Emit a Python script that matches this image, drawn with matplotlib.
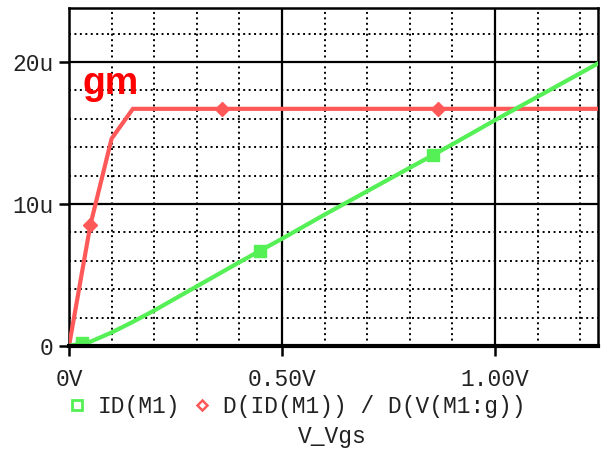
import matplotlib
matplotlib.use("Agg")
import matplotlib.pyplot as plt
from matplotlib.lines import Line2D

# ID(M1) trace, x in volts, y in microamps
vgs_id = [0.0, 0.03, 0.05, 0.10, 0.15, 0.20, 0.30, 0.40, 0.448, 0.50,
          0.60, 0.70, 0.80, 0.855, 0.90, 1.00, 1.10, 1.20, 1.242]
id_u = [0.0, 0.2, 0.3, 0.95, 1.7, 2.5, 4.2, 5.9, 6.7, 7.55,
        9.25, 10.9, 12.55, 13.45, 14.2, 15.9, 17.55, 19.2, 19.9]
id_marks = [1, 8, 13]

# gm = D(ID)/D(Vg) trace
vgs_gm = [0.0, 0.05, 0.10, 0.15, 0.36, 0.866, 1.242]
gm_u = [0.0, 8.5, 14.6, 16.7, 16.7, 16.7, 16.7]
gm_marks = [1, 4, 5]

x_ticks = [0.0, 0.5, 1.0]
x_labels = ["0V", "0.50V", "1.00V"]
y_ticks = [0, 10, 20]
y_labels = ["0", "10u", "20u"]

GREEN = "#55f055"
RED = "#ff5858"
MONO = "Liberation Mono"
TXT = "#222222"
FS = 16.5

fig = plt.figure(figsize=(6.01, 4.58), dpi=100)
ax = fig.add_axes([69 / 601, 1 - 346 / 458, (598 - 69) / 601, (346 - 8) / 458])
ax.set_xlim(0, 1.242)
ax.set_ylim(0, 23.8)

# dotted minor grid
for gx in [0.1, 0.2, 0.3, 0.4, 0.6, 0.7, 0.8, 0.9, 1.1, 1.2]:
    ax.axvline(gx, color="black", lw=1.4, ls=(0, (1, 1.8)), zorder=1)
for gy in [2, 4, 6, 8, 12, 14, 16, 18, 22]:
    ax.axhline(gy, color="black", lw=1.4, ls=(0, (1, 1.8)), zorder=1)
# solid major grid
for gx in [0.5, 1.0]:
    ax.axvline(gx, color="black", lw=1.6, zorder=1)
for gy in [10, 20]:
    ax.axhline(gy, color="black", lw=1.6, zorder=1)

ax.plot(vgs_gm, gm_u, color=RED, lw=3, marker="D", markersize=7,
        markevery=gm_marks, zorder=3, solid_joinstyle="miter")
ax.plot(vgs_id, id_u, color=GREEN, lw=3, marker="s", markersize=9,
        markevery=id_marks, zorder=4)

for side in ["left", "top", "right"]:
    ax.spines[side].set_linewidth(1.8)
ax.spines["bottom"].set_linewidth(3)
ax.spines["bottom"].set_zorder(5)

ax.set_xticks(x_ticks)
ax.set_xticklabels(x_labels)
ax.set_yticks(y_ticks)
ax.set_yticklabels(y_labels)
ax.tick_params(axis="both", direction="out", length=7, width=1.8,
               labelsize=FS, labelcolor=TXT, pad=4)
for lab in ax.get_xticklabels() + ax.get_yticklabels():
    lab.set_family(MONO)
ax.tick_params(axis="x", pad=9)

fig.text(82 / 601, 1 - 94 / 458, "gm", color="#ff0000", fontsize=27,
         fontweight="bold", family="Liberation Sans")

handles = [
    Line2D([], [], ls="none", marker="s", markersize=7, mfc="none",
           mec=GREEN, mew=2),
    Line2D([], [], ls="none", marker="D", markersize=5.5, mfc="none",
           mec=RED, mew=1.8),
]
labels = ["ID(M1)", "D(ID(M1)) / D(V(M1:g))"]
fig.legend(handles, labels, loc="center left", ncol=2, frameon=False,
           bbox_to_anchor=(70 / 601, 1 - 407 / 458),
           prop={"family": MONO, "size": FS}, labelcolor=TXT,
           handlelength=0.6, handletextpad=0.61, columnspacing=0.65,
           borderaxespad=0, borderpad=0)

fig.text(332 / 601, 1 - 437 / 458, "V_Vgs", ha="center", va="center",
         family=MONO, fontsize=FS, color=TXT)

fig.savefig("out.png", dpi=100)
